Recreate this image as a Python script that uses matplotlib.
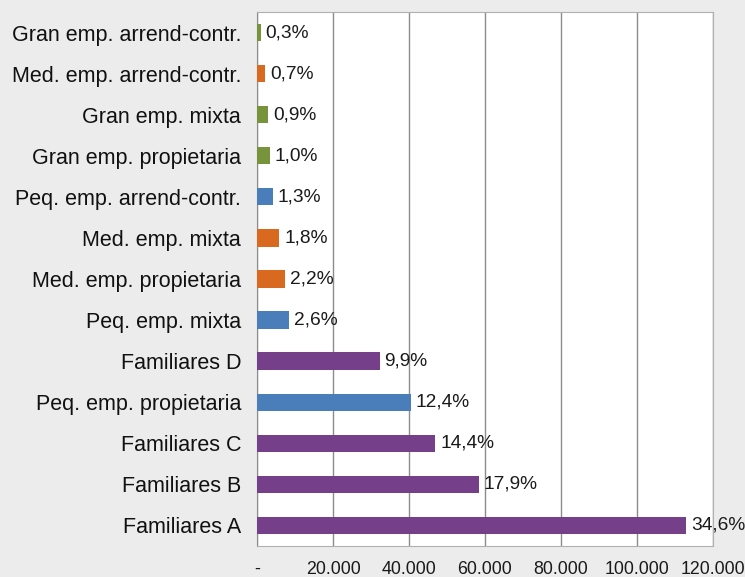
import numpy as np
import matplotlib.pyplot as plt
from matplotlib.ticker import FuncFormatter

plt.rcParams['font.family'] = ['Liberation Sans', 'DejaVu Sans']

# bottom to top
categories = ['Familiares A', 'Familiares B', 'Familiares C', 'Peq. emp. propietaria',
              'Familiares D', 'Peq. emp. mixta', 'Med. emp. propietaria', 'Med. emp. mixta',
              'Peq. emp. arrend-contr.', 'Gran emp. propietaria', 'Gran emp. mixta',
              'Med. emp. arrend-contr.', 'Gran emp. arrend-contr.']
values = [113000, 58400, 46900, 40500, 32300, 8500, 7300, 5900, 4200, 3400, 3000, 2200, 1000]
shares = ['34,6%', '17,9%', '14,4%', '12,4%', '9,9%', '2,6%', '2,2%', '1,8%',
          '1,3%', '1,0%', '0,9%', '0,7%', '0,3%']
groups = ['fam', 'fam', 'fam', 'peq', 'fam', 'peq', 'med', 'med', 'peq', 'gran', 'gran', 'med', 'gran']
group_colors = {'fam': '#763F8A', 'peq': '#4A7EBB', 'med': '#D9691E', 'gran': '#77933C'}
xticks = [0, 20000, 40000, 60000, 80000, 100000, 120000]

bg = '#ECECEC'
fig = plt.figure(figsize=(7.45, 5.77), dpi=100, facecolor=bg)
ax = fig.add_axes([0.345, 0.054, 0.612, 0.925])
ax.set_facecolor('white')

y = np.arange(len(categories))
colors = [group_colors[g] for g in groups]
ax.barh(y, values, height=0.42, color=colors, zorder=3)

for yi, v, s in zip(y, values, shares):
    ax.annotate(s, (v, yi), xytext=(3.5, 0), textcoords='offset points',
                va='center', ha='left', fontsize=13.8, color='#1A1A1A', zorder=4)

ax.set_xlim(0, 120000)
ax.set_ylim(-0.5, len(categories) - 0.5)
ax.set_xticks(xticks)
ax.xaxis.set_major_formatter(FuncFormatter(lambda v, p: '-' if v == 0 else f'{int(v):,}'.replace(',', '.')))
ax.grid(axis='x', color='#8C8C8C', linewidth=1, zorder=1)
ax.set_yticks(y)
ax.set_yticklabels(categories, fontsize=15.5, color='#111111')
ax.tick_params(axis='x', labelsize=12.8, colors='#1A1A1A', length=0, pad=11)
ax.tick_params(axis='y', length=0, pad=11.5)

for side in ['top', 'right', 'bottom']:
    ax.spines[side].set_color('#B0B0B0')
ax.spines['left'].set_color('#8C8C8C')

fig.savefig('out.png', dpi=100, facecolor=bg)
